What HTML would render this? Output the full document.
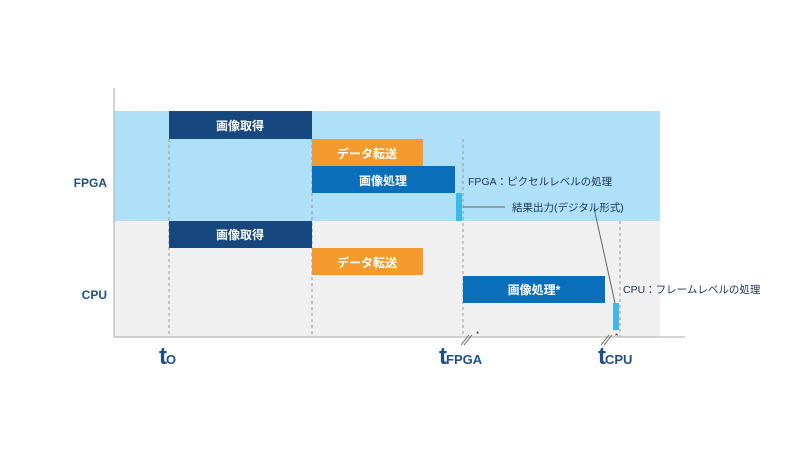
<!DOCTYPE html><html><head><meta charset="utf-8"><style>
body{margin:0;width:800px;height:450px;background:#fff;overflow:hidden;font-family:"Liberation Sans","Noto Sans CJK JP",sans-serif}
</style></head><body>
<svg width="800" height="450" xmlns="http://www.w3.org/2000/svg" font-family="Liberation Sans, Noto Sans CJK JP, sans-serif">
<rect x="114" y="111" width="546" height="110" fill="#aee0f8"/>
<rect x="114" y="221" width="546" height="116" fill="#f0f0f0"/>
<g stroke="#999" stroke-dasharray="3,3" stroke-width="1">
<line x1="169" y1="139" x2="169" y2="337"/><line x1="312" y1="139" x2="312" y2="337"/>
<line x1="463" y1="139" x2="463" y2="337"/><line x1="620" y1="221" x2="620" y2="337"/>
</g>
<line x1="114" y1="88" x2="114" y2="337" stroke="#aaa"/>
<line x1="114" y1="337" x2="685" y2="337" stroke="#aaa"/>
<rect x="169" y="111" width="143" height="28" fill="#16487f"/>
<rect x="312" y="139" width="111" height="27" fill="#f59b2e"/>
<rect x="312" y="166" width="143" height="27" fill="#0a6fba"/>
<rect x="456" y="193" width="6" height="28" fill="#3cb9ea"/>
<rect x="169" y="221" width="143" height="27" fill="#16487f"/>
<rect x="312" y="248" width="111" height="27" fill="#f59b2e"/>
<rect x="463" y="276" width="142" height="27" fill="#0a6fba"/>
<rect x="613" y="303" width="6" height="27" fill="#3cb9ea"/>
<g fill="#fff" font-size="12" font-weight="bold" text-anchor="middle">
<text x="240" y="130">画像取得</text><text x="367" y="158">データ転送</text><text x="383" y="185">画像処理</text>
<text x="240" y="239">画像取得</text><text x="367" y="267">データ転送</text><text x="534" y="294">画像処理*</text>
</g>
<line x1="463" y1="207" x2="505" y2="207" stroke="#666"/>
<line x1="594" y1="208" x2="615" y2="303" stroke="#666"/>
<g fill="#1d3557" font-size="10.5">
<text x="468" y="185">FPGA：ピクセルレベルの処理</text>
<text x="512" y="211">結果出力(デジタル形式)</text>
<text x="623" y="293">CPU：フレームレベルの処理</text>
</g>
<g fill="#1d4f8a" font-weight="bold">
<text x="107" y="187" font-size="12" text-anchor="end">FPGA</text>
<text x="107" y="299" font-size="12" text-anchor="end">CPU</text>
<text x="159" y="364" font-size="24">t<tspan font-size="13" dx="-1">O</tspan></text>
<text x="439" y="364" font-size="24">t<tspan font-size="13" dx="-1">FPGA</tspan></text>
<text x="598" y="364" font-size="24">t<tspan font-size="13" dx="-1">CPU</tspan></text>
</g>
<g stroke="#666"><line x1="461" y1="345" x2="469" y2="335"/><line x1="464" y1="345" x2="472" y2="335"/>
<line x1="601" y1="345" x2="609" y2="335"/><line x1="604" y1="345" x2="612" y2="335"/></g>
<text x="476" y="337" font-size="8" fill="#333">*</text><text x="615" y="339" font-size="8" fill="#333">*</text>
</svg></body></html>
